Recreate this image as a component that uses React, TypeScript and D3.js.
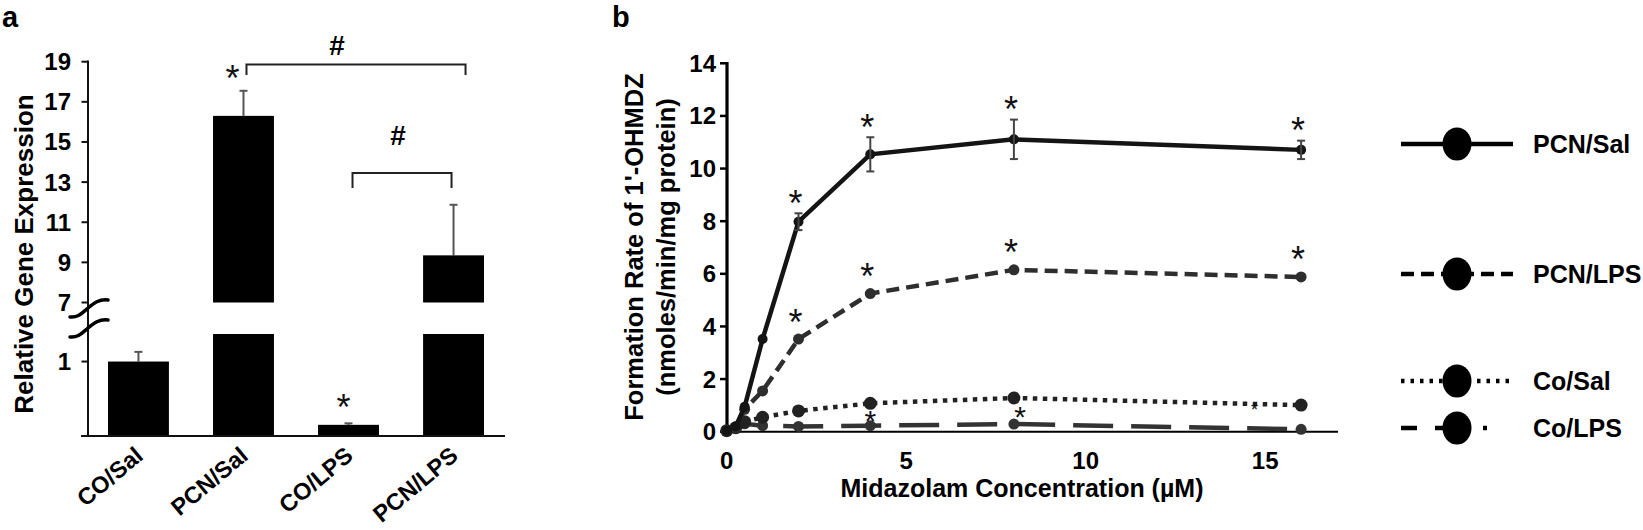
import React from "react";
import * as d3 from "d3";

// ---------- Panel a data ----------
const categories = ["CO/Sal", "PCN/Sal", "CO/LPS", "PCN/LPS"];
const geneMeans = [1.0, 16.3, 0.15, 9.35];
const geneErrors = [0.13, 1.25, 0.02, 2.52];
const upperTicks = [7, 9, 11, 13, 15, 17, 19];
const lowerTicks = [1];

// ---------- Panel b data ----------
const concentrations = [0, 0.25, 0.5, 1, 2, 4, 8, 16];
const pcnSal = [0.04, 0.2, 0.95, 3.52, 7.98, 10.54, 11.11, 10.71];
const pcnSalErr = [0, 0, 0, 0, 0.32, 0.65, 0.75, 0.35];
const pcnLps = [0.04, 0.15, 0.85, 1.55, 3.52, 5.25, 6.15, 5.88];
const coSal = [0.04, 0.15, 0.38, 0.55, 0.79, 1.08, 1.28, 1.01];
const coLps = [0.04, 0.12, 0.3, 0.23, 0.2, 0.23, 0.29, 0.09];
const pcnSalSig = [2, 4, 8, 16];
const pcnLpsSig = [2, 4, 8, 16];
const coLpsSig = [{ x: 4, y: 0.67 }, { x: 8.17, y: 0.82 }];
const coSalSig = [{ x: 14.7, y: 1.0 }];
const xTicksB = [0, 5, 10, 15];
const yTicksB = [0, 2, 4, 6, 8, 10, 12, 14];
const legendLabels = ["PCN/Sal", "PCN/LPS", "Co/Sal", "Co/LPS"];

const FONT = "'Liberation Sans', Arial, sans-serif";

export default function App() {
  // Panel a scales
  const xA = d3.scaleBand().domain(categories).range([87, 505]).paddingInner(0.42).paddingOuter(0.2);
  const yUp = d3.scaleLinear().domain([7, 19]).range([302.5, 61.7]);
  const yLow = d3.scaleLinear().domain([0, 1.37]).range([436, 334]);
  const yA = (v: number) => (v >= 7 ? yUp(v) : yLow(Math.min(v, 1.37)));

  // Panel b scales
  const xB = d3.scaleLinear().domain([0, 17]).range([726.7, 1337]);
  const yB = d3.scaleLinear().domain([0, 14]).range([431.7, 63.3]);
  const line = d3
    .line<[number, number]>()
    .x((d) => xB(d[0]))
    .y((d) => yB(d[1]));

  const series = [
    { vals: pcnSal, color: "#141414", dash: "none", w: 4.5, r: 5 },
    { vals: pcnLps, color: "#2e2e2e", dash: "13 7", w: 4.5, r: 5.5 },
    { vals: coSal, color: "#222", dash: "4.5 5.5", w: 4.5, r: 6.5 },
    { vals: coLps, color: "#333", dash: "40 18", w: 4.5, r: 5.5 },
  ];

  const legendY = [144, 274, 381, 428];
  const legendDash = ["none", "13 7", "3.5 6", "16 18 30 18 4 30"];

  const star = (x: number, cy: number, size = 36, key?: string) => (
    <text key={key} x={x} y={cy + size * 0.57} textAnchor="middle" fontSize={size} fontFamily={FONT} fill="#111">
      *
    </text>
  );

  return (
    <svg width={1643} height={530} style={{ position: "absolute", left: 0, top: 0, background: "#fff" }}>
      <rect width={1643} height={530} fill="#fff" />
      {/* ---------- Panel a ---------- */}
      <text x={2} y={27} fontSize={29} fontWeight="bold" fontFamily={FONT}>a</text>
      <text
        transform={`translate(33,254) rotate(-90)`}
        textAnchor="middle"
        fontSize={26}
        fontWeight="bold"
        fontFamily={FONT}
      >
        Relative Gene Expression
      </text>
      {/* bars */}
      {categories.map((c, i) => {
        const x = xA(c)!;
        const w = xA.bandwidth();
        const v = geneMeans[i];
        const errTop = yA(v + geneErrors[i]);
        const cx = x + w / 2;
        return (
          <g key={c}>
            <line x1={cx} x2={cx} y1={errTop} y2={yA(v)} stroke="#555" strokeWidth={2} />
            <line x1={cx - 4} x2={cx + 4} y1={errTop} y2={errTop} stroke="#555" strokeWidth={2} />
            {v >= 7 ? (
              <>
                <rect x={x} y={yUp(v)} width={w} height={yUp(7) - yUp(v)} fill="#000" />
                <rect x={x} y={yLow(1.37)} width={w} height={yLow(0) - yLow(1.37)} fill="#000" />
              </>
            ) : (
              <rect x={x} y={yLow(v)} width={w} height={yLow(0) - yLow(v)} fill="#000" />
            )}
            <text
              transform={`translate(${cx + 6},458) rotate(-40)`}
              textAnchor="end"
              fontSize={23.5}
              fontWeight="bold"
              fontFamily={FONT}
            >
              {c}
            </text>
          </g>
        );
      })}
      {/* axes a */}
      <line x1={88} x2={88} y1={60.5} y2={437} stroke="#111" strokeWidth={2} />
      <line x1={81} x2={505} y1={436} y2={436} stroke="#111" strokeWidth={2} />
      {upperTicks.map((t) => (
        <g key={"u" + t}>
          <line x1={81.5} x2={88} y1={yUp(t)} y2={yUp(t)} stroke="#111" strokeWidth={2} />
          <text x={71} y={yUp(t) + 8.5} textAnchor="end" fontSize={24} fontWeight="bold" fontFamily={FONT}>
            {t}
          </text>
        </g>
      ))}
      {lowerTicks.map((t) => (
        <g key={"l" + t}>
          <line x1={81.5} x2={88} y1={yLow(t)} y2={yLow(t)} stroke="#111" strokeWidth={2} />
          <text x={71} y={yLow(t) + 8.5} textAnchor="end" fontSize={24} fontWeight="bold" fontFamily={FONT}>
            {t}
          </text>
        </g>
      ))}
      {/* break squiggles */}
      <path d="M70,317 C78,318 82,313 88,308 C94,303 99,299 108,300" fill="none" stroke="#000" strokeWidth={3.5} strokeLinecap="round" />
      <path d="M70,337 C78,338 82,333 88,328 C94,323 99,319 108,320" fill="none" stroke="#000" strokeWidth={3.5} strokeLinecap="round" />
      {/* brackets */}
      {(() => {
        const c1 = xA("PCN/Sal")! + xA.bandwidth() / 2;
        const c4 = xA("PCN/LPS")! + xA.bandwidth() / 2;
        const c3 = xA("CO/LPS")! + xA.bandwidth() / 2;
        return (
          <g stroke="#222" strokeWidth={2} fill="none">
            <path d={`M${c1 + 3},75 V64.5 H${c4 + 12} V75`} />
            <path d={`M${c3 + 4},188 V173 H${c4 - 2} V188`} />
          </g>
        );
      })()}
      <text x={337} y={55} textAnchor="middle" fontSize={28} fontWeight="bold" fontFamily={FONT}>#</text>
      <text x={398} y={145} textAnchor="middle" fontSize={28} fontWeight="bold" fontFamily={FONT}>#</text>
      {star(xA("PCN/Sal")! + xA.bandwidth() / 2 - 11, yA(geneMeans[1] + geneErrors[1]) - 20, 36, "sa1")}
      {star(xA("CO/LPS")! + xA.bandwidth() / 2 - 5, yA(geneMeans[2] + geneErrors[2]) - 24, 36, "sa2")}

      {/* ---------- Panel b ---------- */}
      <text x={612} y={27} fontSize={29} fontWeight="bold" fontFamily={FONT}>b</text>
      <text transform="translate(643,247) rotate(-90)" textAnchor="middle" fontSize={25.5} fontWeight="bold" fontFamily={FONT}>
        Formation Rate of 1'-OHMDZ
      </text>
      <text transform="translate(675,247) rotate(-90)" textAnchor="middle" fontSize={25.5} fontWeight="bold" fontFamily={FONT}>
        (nmoles/min/mg protein)
      </text>
      <text x={1022} y={497} textAnchor="middle" fontSize={25} fontWeight="bold" fontFamily={FONT}>
        Midazolam Concentration (µM)
      </text>
      {/* axes b */}
      <line x1={727} x2={727} y1={62} y2={433} stroke="#000" strokeWidth={3.2} />
      <line x1={725.5} x2={1338} y1={431.7} y2={431.7} stroke="#000" strokeWidth={2} />
      {yTicksB.map((t) => (
        <g key={"yb" + t}>
          <line x1={720} x2={727} y1={yB(t)} y2={yB(t)} stroke="#000" strokeWidth={2.5} />
          <text x={716} y={yB(t) + 8.5} textAnchor="end" fontSize={24} fontWeight="bold" fontFamily={FONT}>
            {t}
          </text>
        </g>
      ))}
      {xTicksB.map((t) => (
        <text key={"xb" + t} x={xB(t)} y={469} textAnchor="middle" fontSize={24} fontWeight="bold" fontFamily={FONT}>
          {t}
        </text>
      ))}
      {/* series (draw bottom first) */}
      {[...series].reverse().map((s, si) => {
        const pts = concentrations.map((c, i) => [c, s.vals[i]] as [number, number]);
        return (
          <g key={"s" + si}>
            <path d={line(pts)!} fill="none" stroke={s.color} strokeWidth={s.w} strokeDasharray={s.dash} />
            {pts.map((p, i) => (
              <circle key={i} cx={xB(p[0])} cy={yB(p[1])} r={s.r} fill={s.color} />
            ))}
          </g>
        );
      })}
      {/* error bars PCN/Sal */}
      {concentrations.map((c, i) =>
        pcnSalErr[i] > 0 ? (
          <g key={"e" + i} stroke="#444" strokeWidth={2}>
            <line x1={xB(c)} x2={xB(c)} y1={yB(pcnSal[i] + pcnSalErr[i])} y2={yB(pcnSal[i] - pcnSalErr[i])} />
            <line x1={xB(c) - 4} x2={xB(c) + 4} y1={yB(pcnSal[i] + pcnSalErr[i])} y2={yB(pcnSal[i] + pcnSalErr[i])} />
            <line x1={xB(c) - 4} x2={xB(c) + 4} y1={yB(pcnSal[i] - pcnSalErr[i])} y2={yB(pcnSal[i] - pcnSalErr[i])} />
          </g>
        ) : null
      )}
      {pcnSalSig.map((c) => {
        const i = concentrations.indexOf(c);
        return star(xB(c) - 3, yB(pcnSal[i] + pcnSalErr[i]) - 18, 36, "ps" + c);
      })}
      {pcnLpsSig.map((c) => {
        const i = concentrations.indexOf(c);
        return star(xB(c) - 3, yB(pcnLps[i]) - 25, 36, "pl" + c);
      })}
      {coLpsSig.map((p, i) => star(xB(p.x), yB(p.y), 30, "cl" + i))}
      {coSalSig.map((p, i) => star(xB(p.x), yB(p.y), 18, "cs" + i))}

      {/* legend */}
      {legendLabels.map((lab, i) => (
        <g key={lab}>
          <line x1={1401} x2={1513} y1={legendY[i]} y2={legendY[i]} stroke="#000" strokeWidth={4.5} strokeDasharray={legendDash[i]} />
          <ellipse cx={1457} cy={legendY[i]} rx={14.5} ry={16.5} fill="#000" />
          <text x={1533} y={legendY[i] + 9} fontSize={25} fontWeight="bold" fontFamily={FONT}>
            {lab}
          </text>
        </g>
      ))}
    </svg>
  );
}
